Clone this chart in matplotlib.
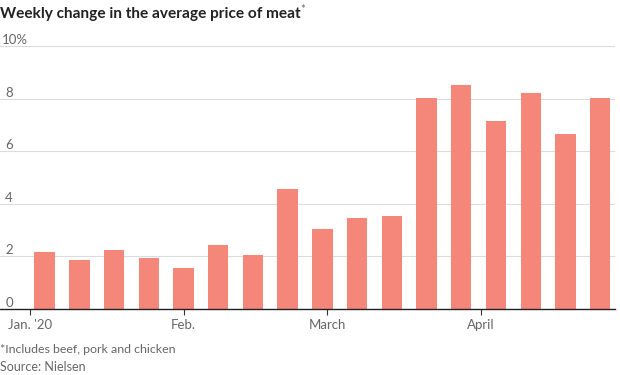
import pandas as pd
import matplotlib.pyplot as plt

# week ending dates (Nielsen weeks end on Saturday)
weeks = ["2020-01-04", "2020-01-11", "2020-01-18", "2020-01-25", "2020-02-01",
         "2020-02-08", "2020-02-15", "2020-02-22", "2020-02-29", "2020-03-07",
         "2020-03-14", "2020-03-21", "2020-03-28", "2020-04-04", "2020-04-11",
         "2020-04-18", "2020-04-25"]
pct_change = [2.17, 1.86, 2.24, 1.94, 1.56, 2.43, 2.05, 4.56, 3.04, 3.46,
              3.54, 8.02, 8.52, 7.15, 8.21, 6.65, 8.02]
y_ticks = [0, 2, 4, 6, 8, 10]
y_labels = ["0", "2", "4", "6", "8", "10%"]
month_ticks = ["2020-01-01", "2020-02-01", "2020-03-01", "2020-04-01"]
month_labels = ["Jan. '20", "Feb.", "March", "April"]

BAR = "#f4877a"
GREY = "#666666"
plt.rcParams["font.family"] = ["Lato", "DejaVu Sans"]

W, H = 620, 375
fig = plt.figure(figsize=(W / 100, H / 100), dpi=100)
ax = fig.add_axes([0, (H - 309) / H, 615 / W, (309 - 46) / H])

dates = pd.to_datetime(weeks)
ax.bar(dates, pct_change, width=4.1, color=BAR, zorder=2)

ax.set_ylim(0, 10)
ax.set_xlim(pd.Timestamp("2019-12-26"), pd.Timestamp("2020-04-28"))

# gridlines + labels sitting above them, inside the plot
for v, lab in zip(y_ticks, y_labels):
    if v > 0:
        ax.axhline(v, color="#dcdcdc", lw=0.8, zorder=1)
    if lab.endswith("%"):
        ax.text(2 / 615, v, lab, transform=ax.get_yaxis_transform(),
                ha="left", va="bottom", fontsize=9.5, color=GREY)
    else:
        ax.text(13 / 615, v, lab, transform=ax.get_yaxis_transform(),
                ha="right", va="bottom", fontsize=9.5, color=GREY)
ax.set_yticks([])

ax.set_xticks(pd.to_datetime(month_ticks))
ax.set_xticklabels(month_labels, fontsize=9.5, color=GREY)
ax.tick_params(axis="x", length=4, width=0.8, color="#333333", pad=3)

for s in ["top", "right", "left"]:
    ax.spines[s].set_visible(False)
ax.spines["bottom"].set_color("#222222")
ax.spines["bottom"].set_linewidth(1.0)
ax.spines["bottom"].set_zorder(3)


def fit_text(t, width_px):
    # shrink/grow a text so it spans the width seen in the reference
    r = fig.canvas.get_renderer()
    w = t.get_window_extent(r).width
    t.set_fontsize(t.get_fontsize() * width_px / w)


title = fig.text(0.0, 1 - 18 / H, "Weekly change in the average price of meat",
                 fontsize=12, fontweight="bold", color="#222222", ha="left", va="baseline")
fit_text(title, 298)
fig.text(300 / W, 1 - 13 / H, "*", fontsize=8, color=GREY, ha="left", va="baseline")

note = fig.text(0.0, 1 - 353 / H, "*Includes beef, pork and chicken", fontsize=9.5,
                color=GREY, ha="left", va="baseline")
fit_text(note, 176)
src = fig.text(0.0, 1 - 371 / H, "Source: Nielsen", fontsize=9.5,
               color=GREY, ha="left", va="baseline")
fit_text(src, 86)

fig.savefig("out.png", dpi=100)
